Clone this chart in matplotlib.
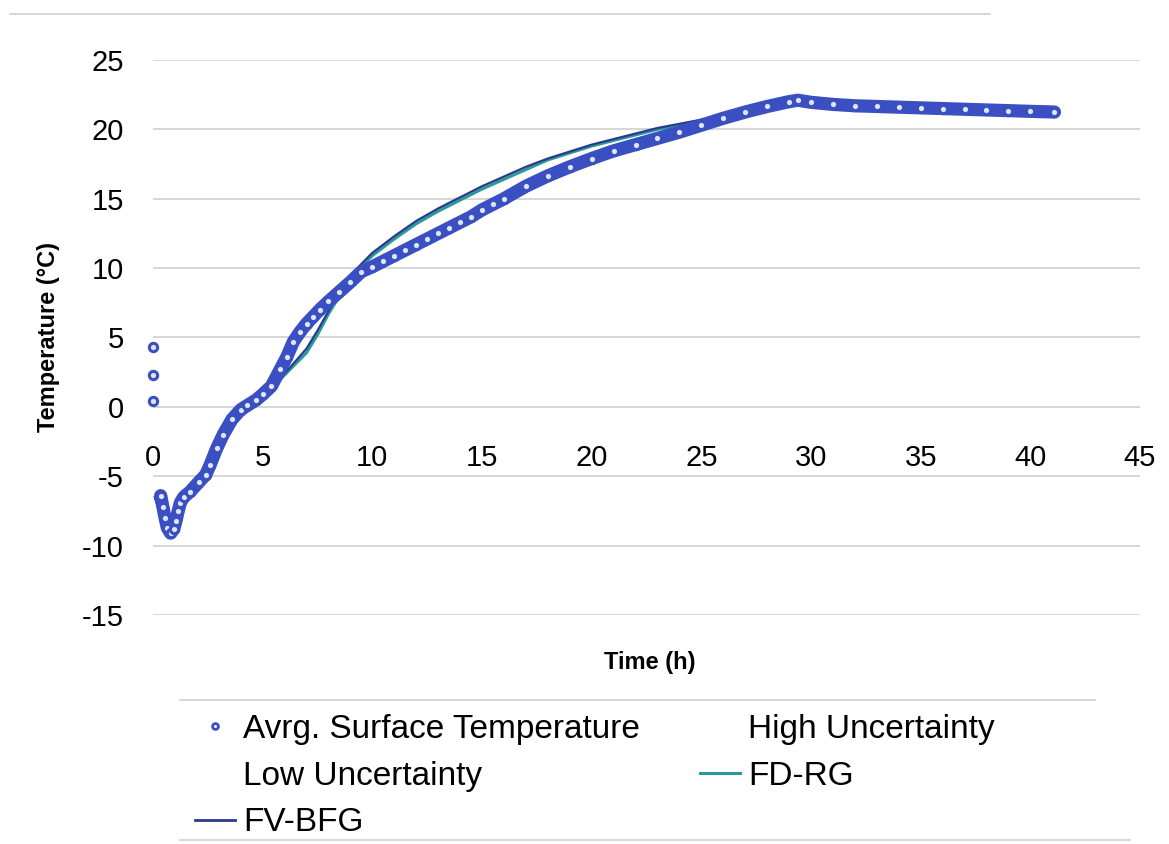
import matplotlib
matplotlib.use("Agg")
import matplotlib.pyplot as plt
from matplotlib.lines import Line2D

plt.rcParams['font.family'] = ['Liberation Sans', 'DejaVu Sans']
plt.rcParams['axes.unicode_minus'] = False

# ---------------- data ----------------
meas_t = [0.0, 0.0, 0.0, 0.35, 0.45, 0.55, 0.65, 0.8, 0.95, 1.05, 1.15, 1.25, 1.4,
          1.7, 2.1, 2.4, 2.6, 2.9, 3.2, 3.6, 4.0, 4.3, 4.7, 5.0, 5.4, 5.8, 6.1, 6.4,
          6.7, 7.0, 7.3, 7.6, 8.0, 8.5, 9.0, 9.5, 10.0, 10.5, 11.0, 11.5, 12.0, 12.5,
          13.0, 13.5, 14.0, 14.5, 15.0, 15.5, 16.0, 17.0, 18.0, 19.0, 20.0, 21.0,
          22.0, 23.0, 24.0, 25.0, 26.0, 27.0, 28.0, 29.0, 29.4, 30.0, 31.0, 32.0,
          33.0, 34.0, 35.0, 36.0, 37.0, 38.0, 39.0, 40.0, 41.1]
meas_T = [4.3, 2.3, 0.4, -6.4, -7.2, -8.0, -8.7, -9.1, -8.8, -8.2, -7.5, -6.9, -6.5,
          -6.1, -5.4, -4.9, -4.2, -3.0, -2.0, -0.9, -0.2, 0.1, 0.5, 0.9, 1.5, 2.7, 3.6,
          4.7, 5.4, 6.0, 6.5, 7.0, 7.6, 8.3, 9.0, 9.75, 10.1, 10.5, 10.9, 11.3, 11.7,
          12.1, 12.5, 12.9, 13.3, 13.7, 14.2, 14.6, 15.0, 15.9, 16.65, 17.3, 17.9,
          18.45, 18.9, 19.35, 19.8, 20.3, 20.8, 21.25, 21.65, 22.0, 22.1, 21.95,
          21.8, 21.7, 21.65, 21.6, 21.55, 21.5, 21.45, 21.4, 21.35, 21.3, 21.25]

model_t = [0.1, 0.3, 0.6, 0.8, 1.0, 1.3, 1.7, 2.1, 2.6, 3.2, 3.6, 4.0, 4.5, 5.0,
           5.5, 6.0, 6.5, 7.0, 7.5, 8.0, 8.5, 9.0, 9.5, 10.0, 10.5, 11.0, 12.0,
           13.0, 14.0, 15.0, 16.0, 17.0, 18.0, 19.0, 20.0, 21.0, 22.0, 23.0, 24.0,
           25.0, 26.0, 27.0, 28.0, 29.0, 30.0, 32.0, 35.0, 38.0, 41.0]
fdrg_T = [-6.5, -7.4, -8.3, -8.5, -8.0, -7.1, -6.3, -5.6, -4.3, -2.2, -1.0, -0.2,
          0.3, 0.8, 1.5, 2.3, 3.1, 3.9, 5.2, 6.7, 8.0, 9.2, 10.1, 10.9, 11.5, 12.1,
          13.2, 14.1, 14.9, 15.7, 16.4, 17.1, 17.8, 18.3, 18.8, 19.2, 19.6, 20.0,
          20.3, 20.6, 20.9, 21.3, 21.65, 21.95, 21.9, 21.7, 21.5, 21.35, 21.2]
fvbfg_T = [-6.6, -7.5, -8.3, -8.5, -8.0, -7.1, -6.3, -5.6, -4.3, -2.2, -1.0, -0.2,
           0.3, 0.8, 1.5, 2.4, 3.3, 4.2, 5.5, 6.9, 8.2, 9.4, 10.3, 11.1, 11.7, 12.3,
           13.4, 14.3, 15.1, 15.9, 16.6, 17.3, 17.9, 18.4, 18.9, 19.3, 19.7, 20.1,
           20.4, 20.7, 21.0, 21.3, 21.65, 21.95, 21.9, 21.7, 21.5, 21.35, 21.2]

x_ticks = [0, 5, 10, 15, 20, 25, 30, 35, 40, 45]
y_ticks = [-15, -10, -5, 0, 5, 10, 15, 20, 25]

# ---------------- style ----------------
C_MEAS = '#3a4fc1'
C_FDRG = '#2a9a98'
C_FVBFG = '#2a3a8f'

fig = plt.figure(figsize=(11.69, 8.44), dpi=100)
fig.patch.set_facecolor('white')
ax = fig.add_axes([153/1169, 1 - 615/844, (1140 - 153)/1169, (615 - 60)/844])

ax.set_xlim(0, 45)
ax.set_ylim(-15, 25)

for s in ax.spines.values():
    s.set_visible(False)
ax.spines['bottom'].set_position(('data', 0))

ax.set_xticks(x_ticks)
ax.set_yticks(y_ticks)
ax.tick_params(axis='x', length=0, pad=27, labelsize=21)
ax.tick_params(axis='y', length=0, pad=21, labelsize=21)
ax.yaxis.grid(True, color='#cccccc', linewidth=1.1)
ax.xaxis.grid(False)
ax.set_axisbelow(True)

# models
ax.plot(model_t, fdrg_T, color=C_FDRG, lw=2.2, zorder=3)
ax.plot(model_t, fvbfg_T, color=C_FVBFG, lw=1.6, zorder=3)

# measured: dense band of circles
ax.plot(meas_t[3:], meas_T[3:], color=C_MEAS, lw=9.5, solid_capstyle='round',
        solid_joinstyle='round', zorder=4)
ax.plot(meas_t, meas_T, linestyle='none', marker='o', ms=6, mew=2.2,
        mec=C_MEAS, mfc='#dfe4f6', zorder=5, clip_on=False)

ax.set_ylabel('Temperature (°C)', fontsize=17, fontweight='bold')
ax.yaxis.set_label_coords(-0.094, 0.50)
ax.set_xlabel('Time (h)', fontsize=17, fontweight='bold')
ax.xaxis.set_label_coords(0.5035, -0.065)

# legend
h_avg = Line2D([], [], linestyle='none', marker='o', ms=6, mew=2.0,
               mec=C_MEAS, mfc='white')
h_high = Line2D([], [], linestyle='none')
h_low = Line2D([], [], linestyle='none')
h_fd = Line2D([], [], color=C_FDRG, lw=2.2)
h_fv = Line2D([], [], color=C_FVBFG, lw=2.0)
handles = [h_avg, h_low, h_fv, h_high, h_fd]
labels = ['Avrg. Surface Temperature', 'Low Uncertainty', 'FV-BFG',
          'High Uncertainty', 'FD-RG']
fig.legend(handles, labels, ncol=2, loc='upper left',
           bbox_to_anchor=(195/1169, 1 - 714/844), frameon=False,
           fontsize=24, handlelength=1.2, handletextpad=0.24,
           columnspacing=1.8, labelspacing=0.47, borderpad=0,
           borderaxespad=0, markerscale=0.7)

# faint scan border lines
for (x0, x1, y) in [(10, 990, 14), (180, 1095, 700), (180, 1130, 840)]:
    fig.add_artist(Line2D([x0/1169, x1/1169], [1 - y/844, 1 - y/844],
                          color='#cfcfcf', lw=1.2, transform=fig.transFigure))

fig.savefig('out.png', dpi=100)
